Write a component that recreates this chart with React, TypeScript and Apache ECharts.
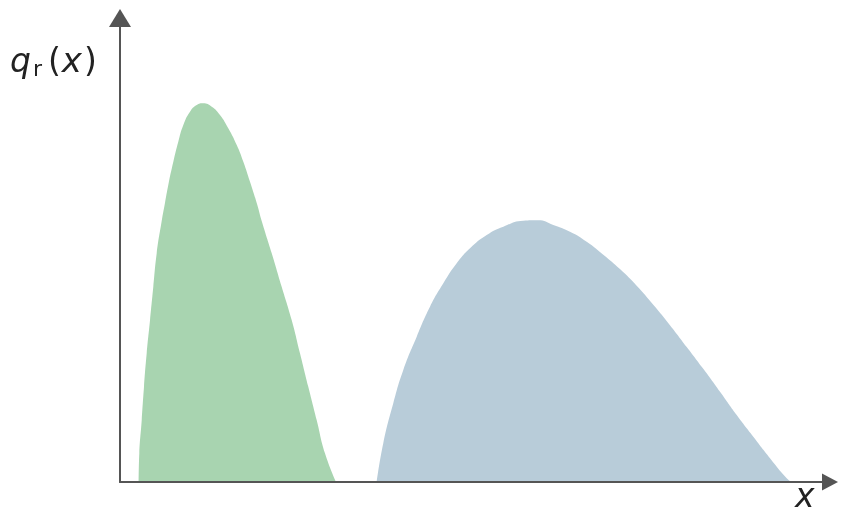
import React, { useEffect, useRef } from "react";
import * as echarts from "echarts";

const greenX = [2.63, 2.72, 3.06, 3.38, 3.76, 4.23, 4.69, 5.17, 5.85, 6.34, 6.8, 7.51, 8.21, 8.92, 9.86, 10.8, 11.73, 12.92, 14.08, 15.25, 16.44, 17.37, 18.31, 19.3, 20.0, 21.37, 22.77, 24.18, 25.35, 26.52, 27.7, 28.87, 30.42];
const greenY = [0, 6.19, 13.36, 20.54, 27.74, 34.91, 42.09, 49.29, 56.03, 60.2, 64.01, 69.03, 73.34, 76.94, 79.81, 81.25, 81.62, 80.88, 79.09, 76.23, 72.63, 69.03, 64.72, 59.9, 56.03, 49.29, 42.09, 34.91, 27.74, 20.54, 13.36, 6.19, 0];
const blueX = [36.15, 37.08, 38.49, 39.9, 41.79, 43.66, 45.54, 47.42, 49.3, 51.65, 53.99, 56.8, 58.87, 61.03, 63.38, 65.73, 68.07, 70.42, 72.77, 75.11, 77.46, 79.82, 82.15, 84.51, 86.86, 89.2, 91.55, 93.9, 94.6];
const blueY = [0, 8.34, 16.96, 24.14, 31.32, 37.78, 42.82, 47.13, 50.37, 53.23, 55.02, 56.31, 56.4, 55.39, 53.94, 51.79, 49.0, 45.9, 42.3, 38.2, 33.8, 29.1, 24.4, 19.46, 14.44, 9.76, 5.11, 0.8, 0];

const zip = (xs: number[], ys: number[]) => xs.map((x, i) => [x, ys[i]]);

export default function App() {
  const ref = useRef<HTMLDivElement>(null);
  useEffect(() => {
    if (!ref.current) return;
    const chart = echarts.init(ref.current, undefined, { renderer: "svg" });
    const axisLine = {
      show: true,
      symbol: ["none", "triangle"],
      symbolSize: [22, 18],
      lineStyle: { color: "#555", width: 2 },
    };
    const font = "DejaVu Sans";
    chart.setOption({
      animation: false,
      grid: { left: 120, top: 18, width: 710, height: 464 },
      xAxis: {
        type: "value",
        min: 0,
        max: 100,
        z: 5,
        axisLine: { ...axisLine, symbolSize: [17, 16] },
        axisTick: { show: false },
        axisLabel: { show: false },
        splitLine: { show: false },
      },
      yAxis: {
        type: "value",
        min: 0,
        max: 100,
        z: 5,
        axisLine,
        axisTick: { show: false },
        axisLabel: { show: false },
        splitLine: { show: false },
      },
      graphic: [
        {
          type: "text",
          left: 10,
          top: 43,
          style: {
            text: "{q|q}{r|r}{p|(}{x|x}{p|)}",
            rich: {
              q: { fontFamily: font, fontStyle: "italic", fontSize: 33, fill: "#222", padding: [0, 1, 0, 0] },
              x: { fontFamily: font, fontStyle: "italic", fontSize: 34, fill: "#222", padding: [0, 2, 0, 1] },
              r: { fontFamily: font, fontSize: 22, fill: "#222", verticalAlign: "bottom", padding: [16, 6, 0, 1] },
              p: { fontFamily: font, fontSize: 33, fill: "#222" },
            },
          },
        },
        {
          type: "text",
          left: 795,
          top: 479,
          style: { text: "x", fontFamily: font, fontStyle: "italic", fontSize: 33, fill: "#222" },
        },
      ],
      series: [
        {
          type: "line",
          data: zip(greenX, greenY),
          smooth: 0.5,
          showSymbol: false,
          lineStyle: { width: 0 },
          areaStyle: { color: "#a8d4b0", opacity: 1 },
          z: 2,
        },
        {
          type: "line",
          data: zip(blueX, blueY),
          smooth: 0.5,
          showSymbol: false,
          lineStyle: { width: 0 },
          areaStyle: { color: "#b8ccd9", opacity: 1 },
          z: 2,
        },
      ],
    });
    return () => chart.dispose();
  }, []);
  return <div ref={ref} style={{ position: "fixed", left: 0, top: 0, width: 841, height: 514 }} />;
}
